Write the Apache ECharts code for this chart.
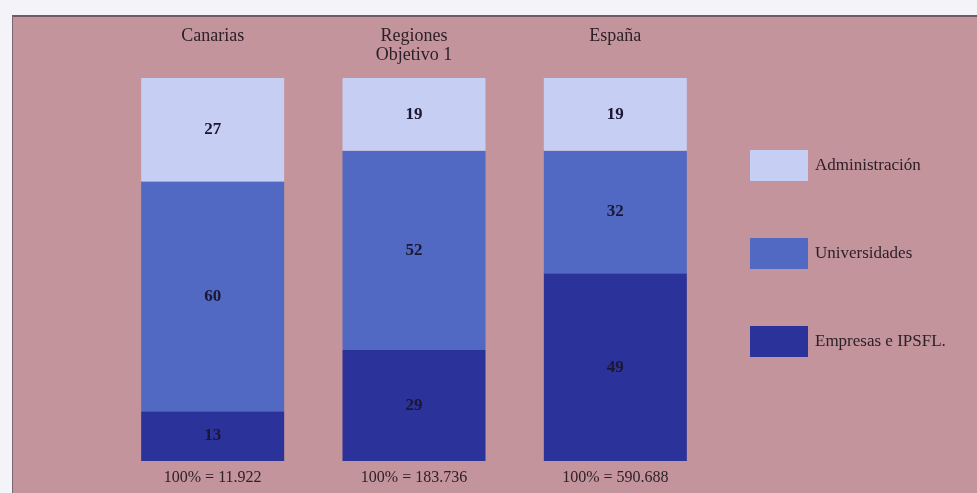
<!DOCTYPE html>
<html>
<head>
<meta charset="utf-8">
<script src="https://cdn.jsdelivr.net/npm/echarts@6/dist/echarts.min.js"></script>
<style>
  html, body { margin: 0; padding: 0; background: #f5f3fa; }
  #chart { width: 977px; height: 493px; }
</style>
</head>
<body>
<div id="chart"></div>
<script>
// Regions compared
const regions = ['Canarias', 'Regiones\nObjetivo 1', 'España'];
// Total base for each column (100% = ...)
const totals = ['100% = 11.922', '100% = 183.736', '100% = 590.688'];
// Share by sector, in percent
const administracion = [27, 19, 19];
const universidades = [60, 52, 32];
const empresas = [13, 29, 49];
// Sector names as shown in the legend
const sectorNames = ['Administración', 'Universidades', 'Empresas e IPSFL.'];

const serif = '"Liberation Serif", "DejaVu Serif", serif';
const panel = '#c3949b';
const ink = '#2e2028';
const labelStyle = {
  show: true,
  position: 'inside',
  color: '#1b1733',
  fontFamily: serif,
  fontWeight: 'bold',
  fontSize: 17
};

const chart = echarts.init(document.getElementById('chart'));
chart.setOption({
  backgroundColor: panel,
  animation: false,
  graphic: [
    { type: 'rect', shape: { x: 0, y: 0, width: 977, height: 15 }, style: { fill: '#f5f3fa' }, silent: true },
    { type: 'rect', shape: { x: 0, y: 0, width: 12, height: 493 }, style: { fill: '#f5f3fa' }, silent: true },
    { type: 'line', shape: { x1: 12, y1: 16, x2: 977, y2: 16 }, style: { stroke: '#6e5a62', lineWidth: 2 }, silent: true },
    { type: 'line', shape: { x1: 12.5, y1: 16, x2: 12.5, y2: 493 }, style: { stroke: '#7a6670', lineWidth: 1 }, silent: true }
  ],
  grid: { left: 112, right: 261, top: 78, bottom: 32 },
  legend: {
    data: sectorNames,
    orient: 'vertical',
    left: 745,
    top: 145,
    itemWidth: 58,
    itemHeight: 31,
    itemGap: 57,
    icon: 'rect',
    textStyle: { fontFamily: serif, fontSize: 17, color: ink, padding: [0, 0, 0, 2] }
  },
  xAxis: [
    {
      type: 'category',
      data: totals,
      position: 'bottom',
      axisLine: { show: false },
      axisTick: { show: false },
      axisLabel: { fontFamily: serif, fontSize: 16, color: ink, margin: 9 }
    },
    {
      type: 'category',
      data: regions,
      position: 'top',
      axisLine: { show: false },
      axisTick: { show: false },
      axisLabel: {
        fontFamily: serif, fontSize: 18, color: ink,
        verticalAlign: 'top', margin: 51, lineHeight: 19
      }
    }
  ],
  yAxis: { type: 'value', min: 0, max: 100, show: false },
  series: [
    {
      name: sectorNames[2], type: 'bar', stack: 'total', data: empresas,
      barWidth: 143, itemStyle: { color: '#2b339a' }, label: labelStyle
    },
    {
      name: sectorNames[1], type: 'bar', stack: 'total', data: universidades,
      barWidth: 143, itemStyle: { color: '#5169c2' }, label: labelStyle
    },
    {
      name: sectorNames[0], type: 'bar', stack: 'total', data: administracion,
      barWidth: 143, itemStyle: { color: '#c6cef3' }, label: labelStyle
    }
  ]
});
</script>
</body>
</html>
